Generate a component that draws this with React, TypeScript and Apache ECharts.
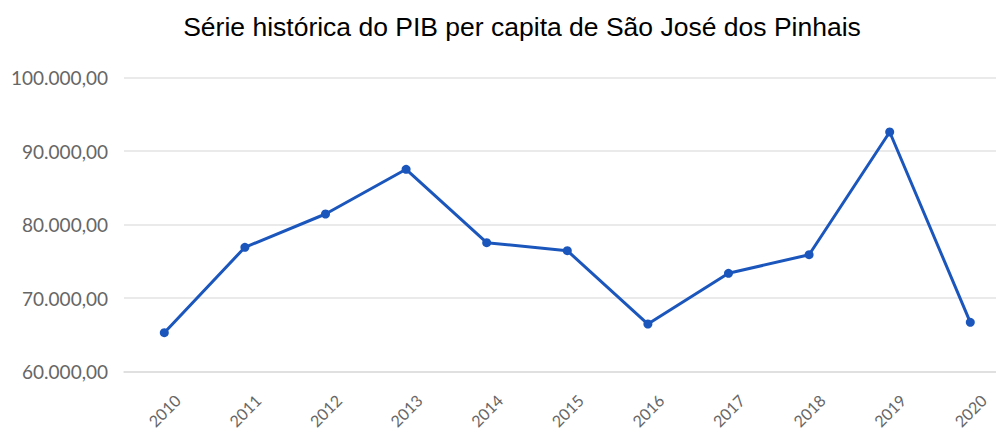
import React, { useEffect, useRef } from "react";
import * as echarts from "echarts";

const titleText = "Série histórica do PIB per capita de São José dos Pinhais";
const years = ["2010", "2011", "2012", "2013", "2014", "2015", "2016", "2017", "2018", "2019", "2020"];
const pibPerCapita = [65280, 76900, 81430, 87510, 77520, 76435, 66460, 73360, 75890, 92585, 66690];
const yMin = 60000;
const yMax = 100000;
const yStep = 10000;

function formatBR(v: number): string {
  const parts = Math.round(v).toString().replace(/\B(?=(\d{3})+(?!\d))/g, ".");
  return parts + ",00";
}

export default function App() {
  const ref = useRef<HTMLDivElement>(null);
  useEffect(() => {
    if (!ref.current) return;
    const chart = echarts.init(ref.current, undefined, { renderer: "svg" });
    chart.setOption({
      animation: false,
      backgroundColor: "#ffffff",
      title: {
        text: titleText,
        left: 517,
        textAlign: "center",
        top: 8,
        textStyle: {
          fontFamily: "Liberation Sans, Arial, sans-serif",
          fontSize: 26.5,
          fontWeight: "normal",
          color: "#000000",
        },
      },
      grid: { left: 124, top: 77.5, width: 886.6, height: 294, outerBoundsMode: "none", containLabel: false },
      xAxis: {
        type: "category",
        data: years,
        boundaryGap: true,
        axisLine: { lineStyle: { color: "#dddddd", width: 1.5 } },
        axisTick: { alignWithLabel: true, length: 6, lineStyle: { color: "#aaaaaa", width: 1.5 } },
        axisLabel: {
          rotate: 45,
          align: "center",
          verticalAlign: "middle",
          margin: 39,
          color: "#666666",
          fontFamily: "Lato, sans-serif",
          fontSize: 16,
        },
      },
      yAxis: {
        type: "value",
        min: yMin,
        max: yMax,
        interval: yStep,
        axisLine: { show: false },
        axisTick: { show: false },
        splitLine: { lineStyle: { color: "#e3e3e3", width: 1.5 } },
        axisLabel: {
          margin: 16,
          color: "#666666",
          fontFamily: "Lato, sans-serif",
          fontSize: 19,
          formatter: (v: number) => formatBR(v),
        },
      },
      series: [
        {
          type: "line",
          data: pibPerCapita,
          symbol: "circle",
          symbolSize: 9,
          lineStyle: { color: "#1b56bd", width: 3 },
          itemStyle: { color: "#1b56bd" },
        },
      ],
    });
    return () => chart.dispose();
  }, []);
  return <div ref={ref} style={{ position: "fixed", left: 0, top: 0, width: 996, height: 432 }} />;
}
